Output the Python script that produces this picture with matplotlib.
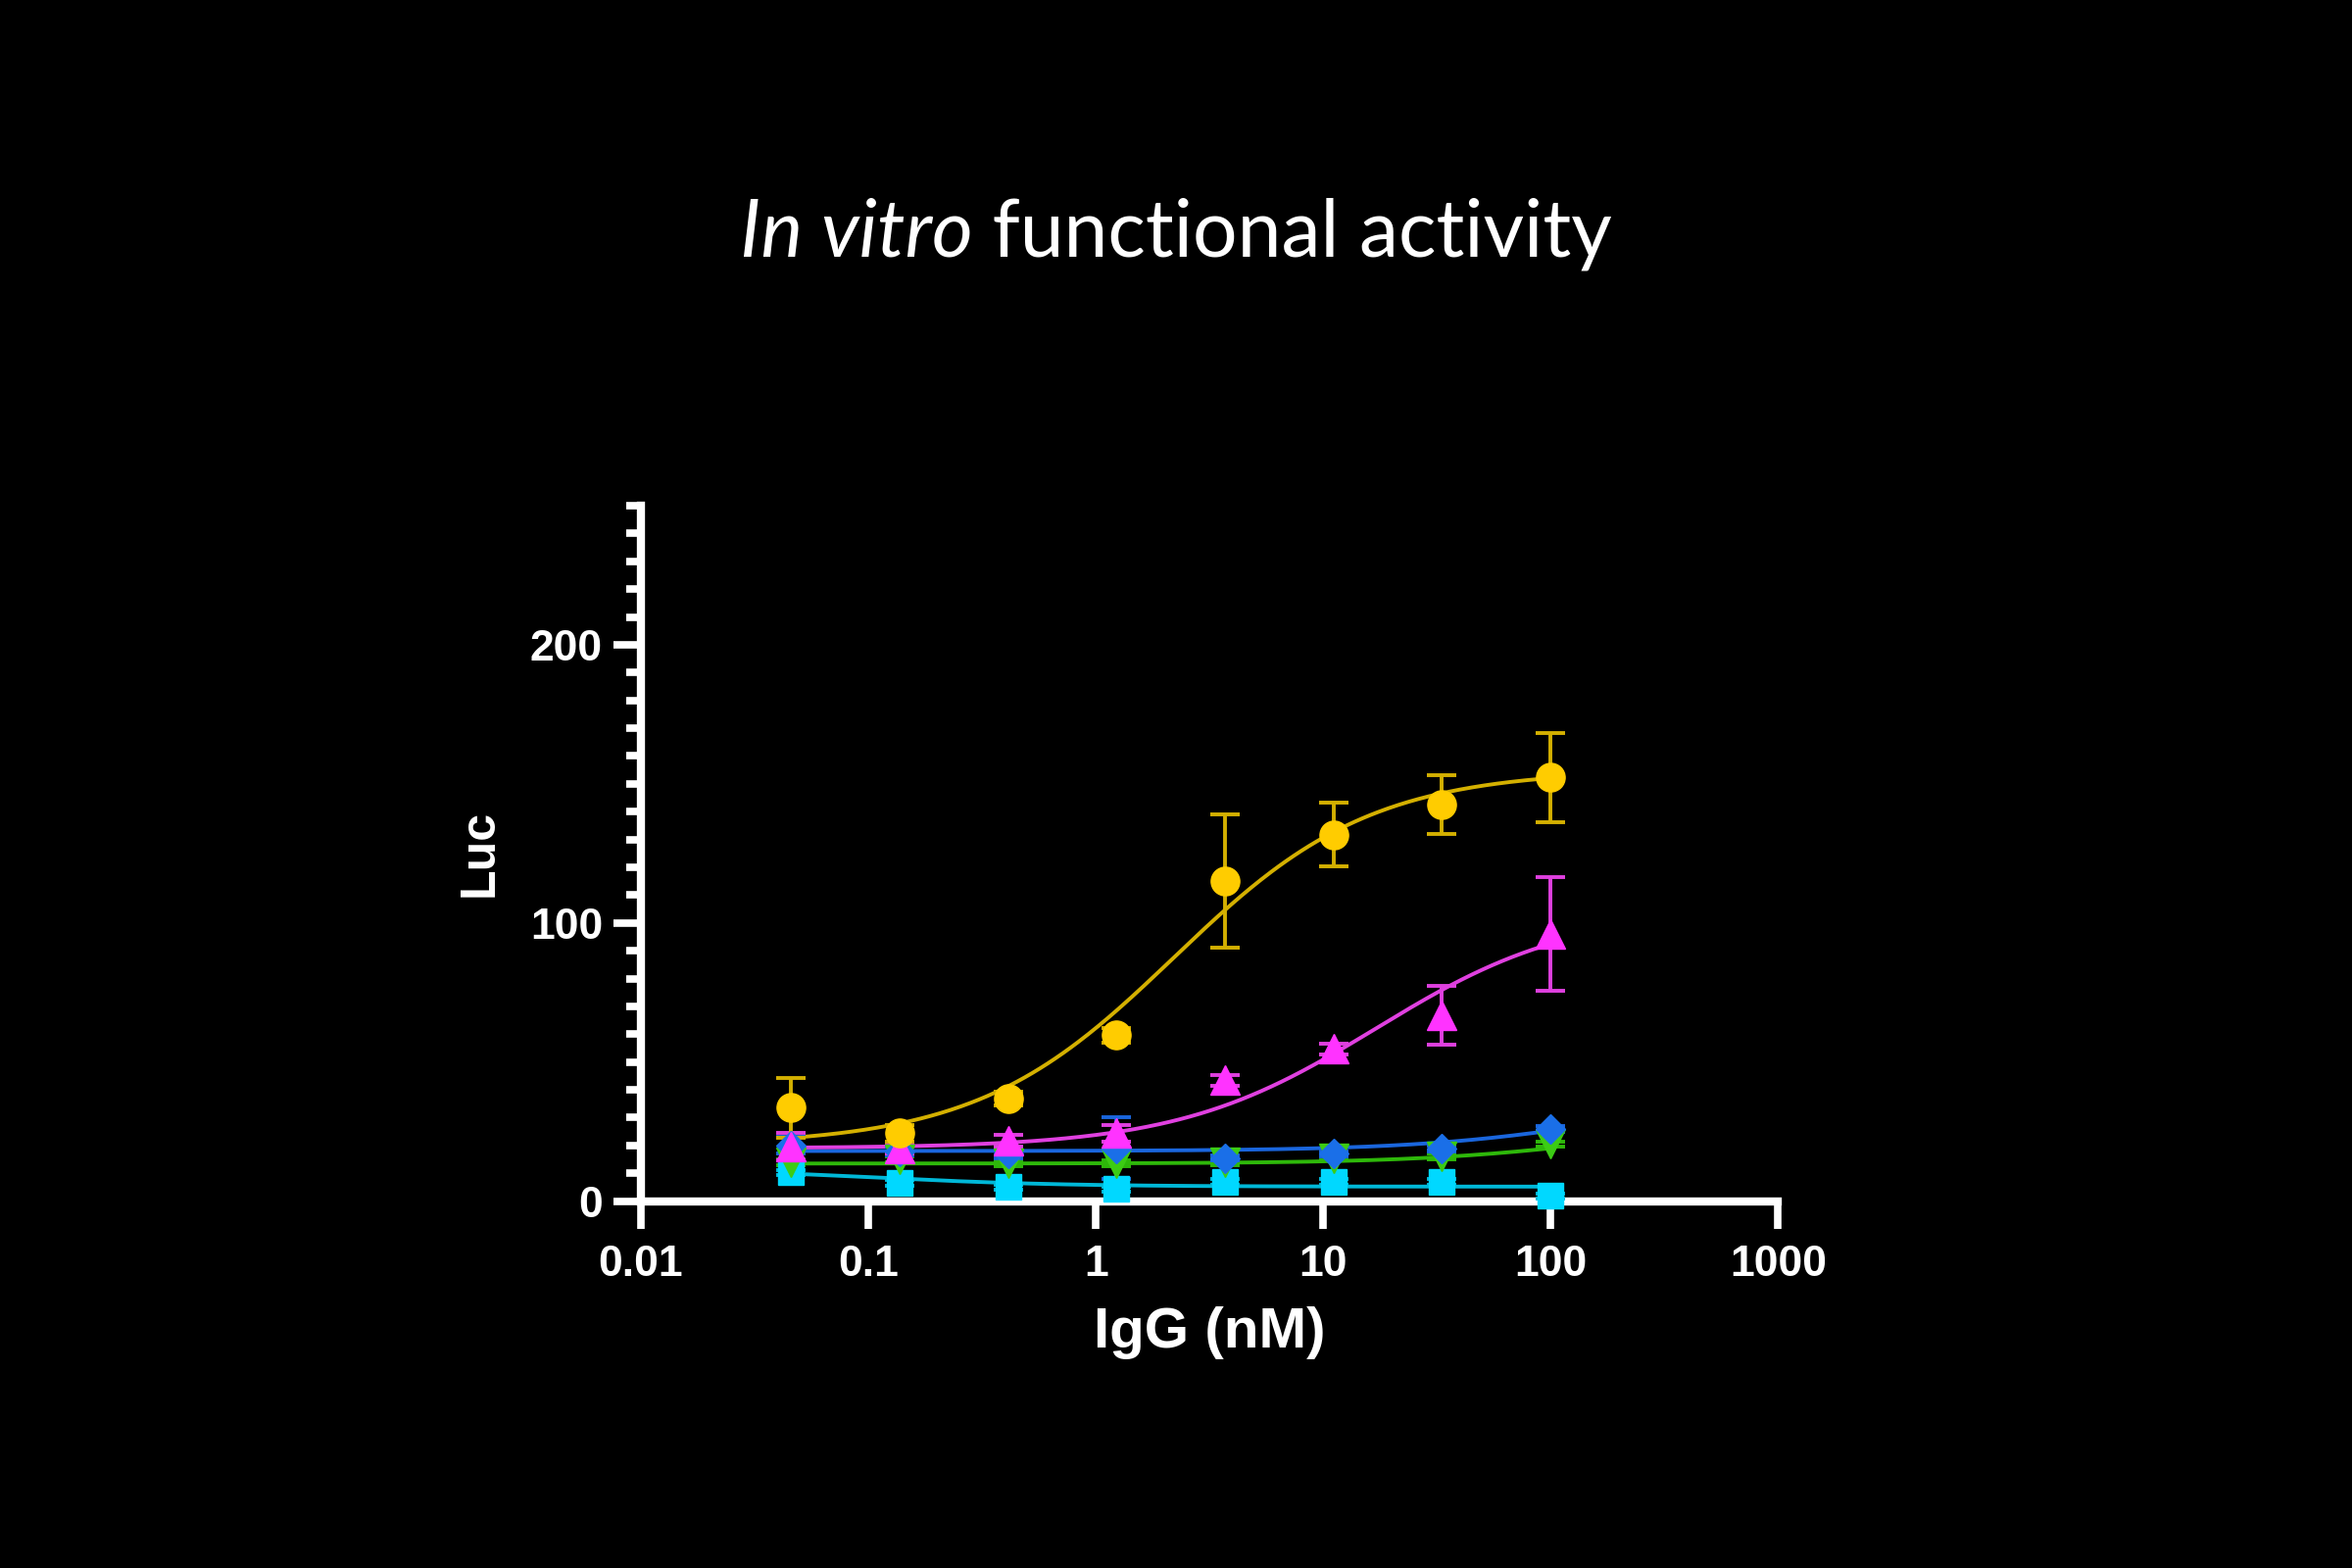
import numpy as np
import matplotlib
matplotlib.use("Agg")
import matplotlib.pyplot as plt
from matplotlib.ticker import FixedLocator, NullLocator, FixedFormatter

# concentrations (3-fold dilution from 100 nM)
conc = [0.0457, 0.137, 0.412, 1.23, 3.70, 11.1, 33.3, 100.0]

yellow_y = [33.6, 24.4, 36.9, 59.6, 115.0, 131.7, 142.5, 152.3]
yellow_err = [10.8, 3.0, 2.5, 2.5, 24.0, 11.5, 10.5, 16.0]
magenta_y = [19.5, 19.0, 21.7, 24.4, 43.4, 54.7, 66.7, 96.0]
magenta_err = [5.0, 2.0, 2.0, 3.0, 2.0, 2.0, 10.5, 20.5]
blue_y = [20.0, 18.0, 17.0, 19.0, 15.5, 17.0, 19.0, 26.0]
blue_err = [3.0, 1.5, 1.5, 11.0, 1.0, 1.0, 1.0, 1.0]
green_y = [14.0, 15.0, 13.5, 13.5, 14.0, 15.5, 16.0, 20.5]
green_err = [1.0, 1.0, 1.0, 1.0, 1.0, 1.0, 1.0, 1.0]
cyan_y = [10.3, 6.5, 5.0, 4.3, 7.0, 7.0, 7.0, 1.8]
cyan_err = [1.0, 1.0, 1.0, 1.0, 1.0, 1.0, 1.0, 1.0]

# 4PL fit parameters: bottom, top, EC50, hill
yellow_fit = (20.0, 155.0, 2.2, 1.0)
magenta_fit = (19.0, 105.0, 17.0, 1.0)
blue_fit = (18.0, 40.0, 200.0, 1.0)
green_fit = (13.5, 30.0, 200.0, 1.0)
cyan_fit = (12.0, 5.2, 0.1, 1.0)

x_ticks = [0.01, 0.1, 1, 10, 100, 1000]
x_labels = ["0.01", "0.1", "1", "10", "100", "1000"]
y_ticks = [0, 100, 200]


def four_pl(x, p):
    bottom, top, ec50, hill = p
    return bottom + (top - bottom) / (1 + (ec50 / x) ** hill)


series = [
    (cyan_y, cyan_err, cyan_fit, "s", "#00d8ff", "#00b8d8", 19),
    (green_y, green_err, green_fit, "v", "#3ccc14", "#2eb80a", 21),
    (blue_y, blue_err, blue_fit, "D", "#1a6fe8", "#1a66dd", 15),
    (magenta_y, magenta_err, magenta_fit, "^", "#ff33ff", "#e040e0", 21),
    (yellow_y, yellow_err, yellow_fit, "o", "#ffcc00", "#d4b000", 21),
]

fig = plt.figure(figsize=(24, 16), dpi=100, facecolor="black")
ax = fig.add_axes([0.2725, 0.234, 0.4835, 0.4435])
ax.set_facecolor("black")

xs = np.logspace(np.log10(0.0457), 2, 300)
for y, err, fit, mk, c_mark, c_line, ms in series:
    ax.plot(xs, four_pl(xs, fit), color=c_line, lw=2.8, zorder=2)
    ax.errorbar(conc, y, yerr=err, fmt=mk, color=c_mark, ecolor=c_line,
                ms=ms, elinewidth=2.8, capsize=11, capthick=2.8,
                mec=c_mark, zorder=3, clip_on=False)

ax.set_xscale("log")
ax.set_xlim(0.01, 1000)
ax.set_ylim(0, 250)

for s in ["top", "right"]:
    ax.spines[s].set_visible(False)
for s in ["left", "bottom"]:
    ax.spines[s].set_color("white")
    ax.spines[s].set_linewidth(6)
    ax.spines[s].set_capstyle("projecting")

ax.xaxis.set_major_locator(FixedLocator(x_ticks))
ax.xaxis.set_major_formatter(FixedFormatter(x_labels))
ax.xaxis.set_minor_locator(NullLocator())
ax.yaxis.set_major_locator(FixedLocator(y_ticks))
ax.yaxis.set_minor_locator(FixedLocator(np.arange(10, 251, 10)))

ax.tick_params(axis="x", which="major", length=20, width=5.5, color="white",
               labelcolor="white", pad=12)
ax.tick_params(axis="y", which="major", length=20, width=5.5, color="white",
               labelcolor="white", pad=8)
ax.tick_params(axis="y", which="minor", length=11, width=5.5, color="white")
for lab in ax.get_xticklabels() + ax.get_yticklabels():
    lab.set_fontfamily("Liberation Sans")
    lab.set_fontweight("bold")
    lab.set_fontsize(32)

ax.set_xlabel("IgG (nM)", color="white", fontsize=42, fontweight="bold",
              family="Liberation Sans", labelpad=16)
ax.set_ylabel("Luc", color="white", fontsize=36, fontweight="bold",
              family="Liberation Sans", labelpad=20)

# title: italic "In vitro" + regular rest, centred as one line
fig.canvas.draw()
r = fig.canvas.get_renderer()
t1 = fig.text(0, 0.851, "In vitro", color="white", fontsize=58, style="italic",
              family="Lato", va="center")
t2 = fig.text(0, 0.851, " functional activity", color="white", fontsize=58,
              family="Lato", va="center")
w1 = t1.get_window_extent(r).width / fig.bbox.width
w2 = t2.get_window_extent(r).width / fig.bbox.width
x0 = 0.5 - (w1 + w2) / 2
t1.set_x(x0)
t2.set_x(x0 + w1)

fig.savefig("out.png", dpi=100, facecolor="black")
